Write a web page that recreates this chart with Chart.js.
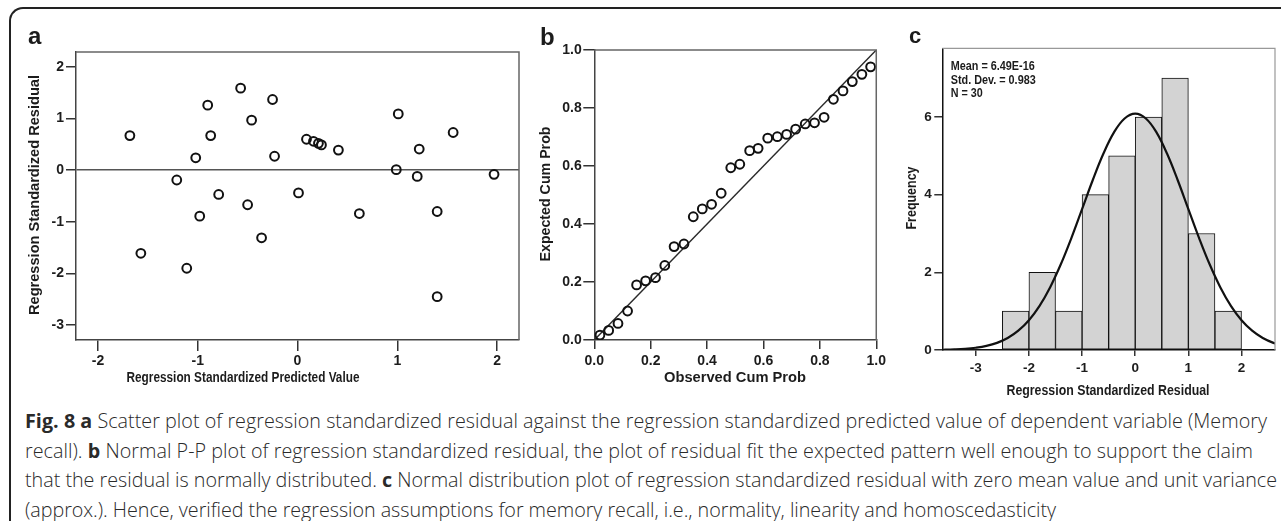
<!DOCTYPE html>
<html><head><meta charset="utf-8">
<script src="https://cdn.jsdelivr.net/npm/chart.js@4.4.1/dist/chart.umd.min.js"></script>
<style>
html,body{margin:0;padding:0;background:#fff;}
body{width:1281px;height:521px;overflow:hidden;position:relative;font-family:"Open Sans","Noto Sans",sans-serif;}
#frame{position:absolute;left:9px;top:7px;width:1320px;height:620px;border-left:2px solid #222;border-top:2px solid #222;border-top-left-radius:14px;}
canvas{position:absolute;top:0;}
#capt{position:absolute;left:25px;top:406px;}
.ln{white-space:nowrap;height:29.6px;line-height:29.6px;font-size:19px;font-weight:300;color:#2a2a2a;}
.ln b{font-weight:700;}
.ln span{display:inline-block;}
</style></head><body>
<div id="frame"></div>
<canvas id="ca" width="530" height="400" style="left:0px"></canvas>
<canvas id="cb" width="360" height="400" style="left:530px"></canvas>
<canvas id="cc" width="391" height="400" style="left:890px"></canvas>
<div id="capt">
<div class="ln"><span><b>Fig. 8 a</b> Scatter plot of regression standardized residual against the regression standardized predicted value of dependent variable (Memory</span></div>
<div class="ln"><span>recall). <b>b</b> Normal P-P plot of regression standardized residual, the plot of residual fit the expected pattern well enough to support the claim</span></div>
<div class="ln"><span>that the residual is normally distributed. <b>c</b> Normal distribution plot of regression standardized residual with zero mean value and unit variance</span></div>
<div class="ln"><span>(approx.). Hence, verified the regression assumptions for memory recall, i.e., normality, linearity and homoscedasticity</span></div>
</div>
<script>
// ---------- Panel a: residual vs predicted ----------
const predA  = [-1.68,-0.90,-0.87,-1.02,-0.57,-0.46,-0.25,-0.23,0.09,0.16,0.21,0.24,0.41,1.01,1.22,1.56,0.99,1.20,1.97,-1.21,-0.79,0.01,-0.50,-0.98,0.62,1.40,-0.36,-1.57,-1.11,1.40];
const residA = [0.67,1.26,0.67,0.24,1.59,0.97,1.37,0.27,0.60,0.56,0.52,0.49,0.39,1.09,0.41,0.73,0.01,-0.12,-0.08,-0.19,-0.47,-0.44,-0.67,-0.89,-0.84,-0.80,-1.31,-1.61,-1.90,-2.45];
const xTicksA = [-2,-1,0,1,2];
const xLabelsA = ['-2','-1','0','1','2'];
const yTicksA = [-3,-2,-1,0,1,2];
const yLabelsA = ['-3','-2','-1','0','1','2'];

// ---------- Panel b: normal P-P plot ----------
const obsB = [0.020,0.051,0.084,0.118,0.150,0.182,0.217,0.250,0.283,0.318,0.351,0.383,0.416,0.450,0.484,0.516,0.551,0.581,0.615,0.649,0.682,0.714,0.748,0.781,0.815,0.848,0.882,0.915,0.949,0.980];
const expB = [0.017,0.033,0.057,0.100,0.190,0.204,0.215,0.257,0.322,0.331,0.425,0.452,0.468,0.506,0.594,0.606,0.653,0.661,0.696,0.701,0.709,0.727,0.745,0.749,0.768,0.830,0.859,0.891,0.916,0.942];
const diagB = [0, 1];
const ticksB = [0,0.2,0.4,0.6,0.8,1.0];
const labelsB = ['0.0','0.2','0.4','0.6','0.8','1.0'];

// ---------- Panel c: histogram with normal curve ----------
const binCentersC = [-2.25,-1.75,-1.25,-0.75,-0.25,0.25,0.75,1.25,1.75];
const freqC = [1,2,1,4,5,6,7,3,1];
const curveXC = [-3.8,-3.6,-3.4,-3.2,-3.0,-2.8,-2.6,-2.4,-2.2,-2.0,-1.8,-1.6,-1.4,-1.2,-1.0,-0.8,-0.6,-0.4,-0.2,0.0,0.2,0.4,0.6,0.8,1.0,1.2,1.4,1.6,1.8,2.0,2.2,2.4,2.6,2.8];
const curveYC = [0.003,0.007,0.015,0.030,0.058,0.105,0.184,0.309,0.498,0.768,1.138,1.619,2.208,2.890,3.629,4.372,5.053,5.604,5.963,6.088,5.963,5.604,5.053,4.372,3.629,2.890,2.208,1.619,1.138,0.768,0.498,0.309,0.184,0.105];
const xTicksC = [-3,-2,-1,0,1,2];
const xLabelsC = ['-3','-2','-1','0','1','2'];
const yTicksC = [0,2,4,6];
const yLabelsC = ['0','2','4','6'];
const statsC = ['Mean = 6.49E-16','Std. Dev. = 0.983','N = 30'];

const SANS = '"Liberation Sans",Arial,"Helvetica",sans-serif';
const TXT = '#1c1c1c';

function axis(min, max, ticks, labels, o) {
  return {
    type: 'linear', min: min, max: max, offset: false,
    afterBuildTicks: s => { s.ticks = ticks.map(v => ({value: v})); },
    afterFit: s => { if (s.isHorizontal()) s.height = o.size; else s.width = o.size; },
    ticks: { autoSkip: false, maxRotation: 0, minRotation: 0, padding: o.pad, color: TXT,
             font: {family: SANS, size: o.font, weight: 'bold'},
             callback: (v, i) => labels[i] },
    grid: { display: true, offset: false, drawOnChartArea: !!o.zero,
            color: o.zero ? (c => (c.tick && c.tick.value === 0) ? '#555' : 'rgba(0,0,0,0)') : '#333',
            lineWidth: 1.5, tickColor: '#333', tickWidth: 1.5, tickLength: o.tl, drawTicks: true },
    border: { display: true, color: o.bc || '#444', width: 1.5 },
    title: { display: false }
  };
}

const framePlugin = {
  id: 'frame',
  afterDraw(chart, args, opts) {
    const {ctx, chartArea: a} = chart;
    ctx.save();
    ctx.strokeStyle = opts.color; ctx.lineWidth = opts.width;
    ctx.beginPath(); ctx.moveTo(a.left, a.top); ctx.lineTo(a.right, a.top); ctx.lineTo(a.right, a.bottom); ctx.stroke();
    ctx.restore();
  }
};
const textPlugin = {
  id: 'texts',
  afterDraw(chart, args, opts) {
    const ctx = chart.ctx;
    (opts.items || []).forEach(t => {
      ctx.save();
      ctx.font = t.font; ctx.fillStyle = t.color || TXT;
      ctx.textAlign = t.align || 'center'; ctx.textBaseline = t.base || 'middle';
      ctx.translate(t.x, t.y);
      if (t.rot) ctx.rotate(t.rot);
      if (t.w) { const m = ctx.measureText(t.text).width; if (m > 0) ctx.scale(t.w / m, 1); }
      ctx.fillText(t.text, 0, 0);
      ctx.restore();
    });
  }
};
Chart.register(framePlugin, textPlugin);

const common = { responsive: false, animation: false, devicePixelRatio: 1, events: [] };
const LBL = 'bold 24px ' + SANS;
const TF = 'bold 15px ' + SANS;
const SF = 'bold 13px ' + SANS;
const HP = -Math.PI / 2;
const PT = { pointRadius: 4.4, pointHoverRadius: 4.4, pointBorderWidth: 2, borderWidth: 2,
  pointBorderColor: '#111', borderColor: '#111', pointBackgroundColor: 'rgba(0,0,0,0)', backgroundColor: 'rgba(0,0,0,0)' };

// Panel a
new Chart(document.getElementById('ca'), {
  type: 'scatter',
  data: { datasets: [Object.assign({ data: predA.map((x, i) => ({x: x, y: residA[i]})) }, PT)] },
  options: Object.assign({}, common, {
    layout: { padding: {left: 0, top: 52, right: 11, bottom: 0} },
    plugins: { legend: {display: false}, tooltip: {enabled: false},
      frame: {color: '#666', width: 1.5},
      texts: { items: [
        {text: 'a', x: 28, y: 43.5, font: LBL, align: 'left', base: 'alphabetic'},
        {text: 'Regression Standardized Residual', x: 35, y: 195, rot: HP, w: 240, font: TF},
        {text: 'Regression Standardized Predicted Value', x: 243, y: 378, w: 233, font: TF}
      ]}},
    scales: {
      x: axis(-2.22, 2.22, xTicksA, xLabelsA, {size: 60, tl: 11, pad: 2, font: 14}),
      y: axis(-3.29, 2.29, yTicksA, yLabelsA, {size: 76, tl: 10, pad: 2, font: 14, zero: true})
    }
  })
});

// Panel b
new Chart(document.getElementById('cb'), {
  type: 'scatter',
  data: { datasets: [
    Object.assign({ data: obsB.map((x, i) => ({x: x, y: expB[i]})) }, PT),
    { data: diagB.map(v => ({x: v, y: v})), showLine: true, pointRadius: 0, borderColor: '#2a2a2a', borderWidth: 1.4, fill: false }
  ]},
  options: Object.assign({}, common, {
    layout: { padding: {left: 0, top: 50, right: 8.3, bottom: 0} },
    plugins: { legend: {display: false}, tooltip: {enabled: false},
      frame: {color: '#666', width: 1.5},
      texts: { items: [
        {text: 'b', x: 10, y: 45, font: LBL, align: 'left', base: 'alphabetic'},
        {text: 'Expected Cum Prob', x: 15.7, y: 194, rot: HP, w: 135, font: TF},
        {text: 'Observed Cum Prob', x: 205, y: 378, w: 142, font: TF}
      ]}},
    scales: {
      x: axis(0, 1, ticksB, labelsB, {size: 60, tl: 9, pad: 4, font: 14}),
      y: axis(0, 1, ticksB, labelsB, {size: 64.3, tl: 11, pad: 1.6, font: 14})
    }
  })
});

// Panel c
new Chart(document.getElementById('cc'), {
  type: 'bar',
  data: { datasets: [
    { type: 'line', data: curveXC.map((x, i) => ({x: x, y: curveYC[i]})), borderColor: '#111', borderWidth: 2.2,
      pointRadius: 0, tension: 0.4, fill: false },
    { type: 'bar', data: binCentersC.map((x, i) => ({x: x, y: freqC[i]})), backgroundColor: '#d3d3d3',
      borderColor: '#111', borderWidth: 1, borderSkipped: false, barPercentage: 1, categoryPercentage: 1 }
  ]},
  options: Object.assign({}, common, {
    layout: { padding: {left: 0, top: 48.3, right: 6, bottom: 0} },
    plugins: { legend: {display: false}, tooltip: {enabled: false},
      frame: {color: '#999', width: 1.2},
      texts: { items: [
        {text: 'c', x: 19, y: 43.3, font: 'bold 22px ' + SANS, align: 'left', base: 'alphabetic'},
        {text: 'Frequency', x: 21.7, y: 198, rot: HP, w: 63, font: TF},
        {text: 'Regression Standardized Residual', x: 218, y: 391, w: 203, font: TF},
        {text: statsC[0], x: 60.7, y: 66.7, w: 84, align: 'left', font: SF},
        {text: statsC[1], x: 60.7, y: 80, w: 85, align: 'left', font: SF},
        {text: statsC[2], x: 60.7, y: 93.3, w: 32, align: 'left', font: SF}
      ]}},
    scales: {
      x: axis(-3.63, 2.63, xTicksC, xLabelsC, {size: 50, tl: 6, pad: 3.9, font: 13.5, bc: '#111'}),
      y: axis(0, 7.77, yTicksC, yLabelsC, {size: 52.3, tl: 8, pad: 2.6, font: 13.5, bc: '#111'})
    }
  })
});

// ---------- caption fitting ----------
(function fitCaption() {
  const targets = [1242, 1228, 1252, 1031];
  const spans = Array.from(document.querySelectorAll('#capt .ln span'));
  const base = 19;
  let ratio = 0;
  spans.forEach((s, i) => { ratio += targets[i] / s.getBoundingClientRect().width; });
  ratio /= spans.length;
  const fs = base * ratio;
  document.querySelectorAll('#capt .ln').forEach(d => d.style.fontSize = fs.toFixed(2) + 'px');
  spans.forEach((s, i) => {
    const w = s.getBoundingClientRect().width;
    const n = s.textContent.length;
    s.style.letterSpacing = ((targets[i] - w) / n).toFixed(3) + 'px';
  });
})();
</script>
</body></html>
